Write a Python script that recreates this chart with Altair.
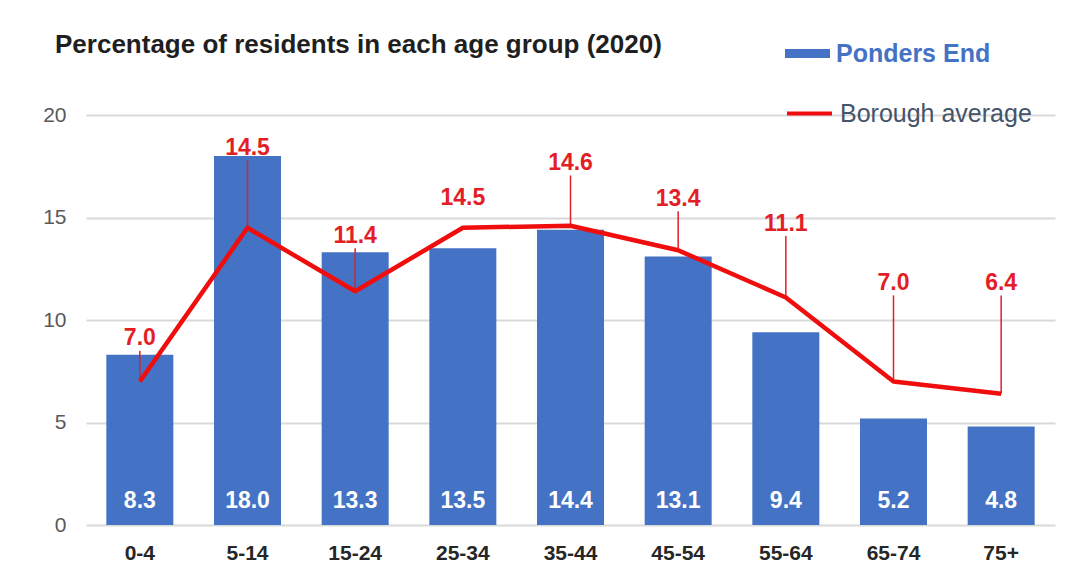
import altair as alt
import pandas as pd

ages = ["0-4", "5-14", "15-24", "25-34", "35-44", "45-54", "55-64", "65-74", "75+"]
ponders_end = [8.3, 18.0, 13.3, 13.5, 14.4, 13.1, 9.4, 5.2, 4.8]
borough_avg = [7.0, 14.5, 11.4, 14.5, 14.6, 13.4, 11.1, 7.0, 6.4]
# where the red value labels sit (in % units)
label_y = [9.1, 18.4, 14.1, 15.95, 17.65, 15.9, 14.7, 11.8, 11.8]
has_leader = [True, True, True, False, True, True, True, True, True]

df = pd.DataFrame({
    "age": ages,
    "pe": ponders_end,
    "avg": borough_avg,
    "label_y": label_y,
    "leader": has_leader,
})

FONT = "Liberation Sans"
BLUE = "#4472C4"
RED = "#F00D0D"
LABEL_RED = "#E41E26"

x_enc = alt.X(
    "age:N",
    sort=ages,
    title=None,
    scale=alt.Scale(paddingInner=0.38, paddingOuter=0.19),
    axis=alt.Axis(labelAngle=0, labelFont=FONT, labelFontSize=21, labelFontWeight="bold",
                  labelColor="#262626", labelPadding=17, ticks=False, domain=False, grid=False),
)
y_scale = alt.Scale(domain=[0, 20])

base = alt.Chart(df).transform_calculate(
    s1="'Ponders End'", s2="'Borough average'", base="0", ltop="datum.label_y - 0.6"
)

bars = base.mark_bar(size=67).encode(
    x=x_enc,
    y=alt.Y("pe:Q", scale=y_scale, title=None,
            axis=alt.Axis(values=[0, 5, 10, 15, 20], labelFont=FONT, labelFontSize=21,
                          labelColor="#595959", labelPadding=20, ticks=False, domain=False,
                          grid=True, gridColor="#D9D9D9", gridWidth=2)),
    color=alt.Color("s1:N", scale=alt.Scale(domain=["Ponders End"], range=[BLUE]),
                    legend=alt.Legend(orient="none", legendX=699, legendY=-84, title=None,
                                      symbolType="M-1,-0.2H1V0.2H-1Z", symbolSize=2025,
                                      symbolStrokeWidth=0, labelFont=FONT, labelFontSize=25,
                                      labelFontWeight="bold", labelColor=BLUE, labelOffset=6,
                                      labelLimit=0, padding=0)),
)

bar_labels = base.mark_text(font=FONT, fontSize=23, fontWeight="bold", color="white",
                            dy=-24, baseline="middle").encode(
    x=alt.X("age:N", sort=ages),
    y=alt.Y("base:Q", scale=y_scale),
    text=alt.Text("pe:Q", format=".1f"),
)

line = base.mark_line(strokeWidth=4.5, strokeJoin="round").encode(
    x=alt.X("age:N", sort=ages),
    y=alt.Y("avg:Q", scale=y_scale),
    stroke=alt.Stroke("s2:N", scale=alt.Scale(domain=["Borough average"], range=[RED]),
                      legend=alt.Legend(orient="none", legendX=699, legendY=-26, title=None,
                                        symbolType="stroke", symbolSize=2025,
                                        symbolStrokeWidth=4, labelFont=FONT, labelFontSize=25,
                                        labelColor="#44546A", labelOffset=6, labelLimit=0,
                                        padding=0)),
)

leaders = base.transform_filter("datum.leader").mark_rule(color=LABEL_RED, strokeWidth=1.5).encode(
    x=alt.X("age:N", sort=ages),
    y=alt.Y("avg:Q", scale=y_scale),
    y2="ltop:Q",
)

val_labels = base.mark_text(font=FONT, fontSize=23, fontWeight="bold", color=LABEL_RED,
                            baseline="middle").encode(
    x=alt.X("age:N", sort=ages),
    y=alt.Y("label_y:Q", scale=y_scale),
    text=alt.Text("avg:Q", format=".1f"),
)

chart = alt.layer(bars, bar_labels, leaders, line, val_labels).resolve_legend(
    color="independent", stroke="independent"
).properties(
    width=969,
    height=410,
    autosize=alt.AutoSizeParams(type="none"),
    padding={"left": 78, "top": 107, "right": 15, "bottom": 49},
    title=alt.TitleParams("Percentage of residents in each age group (2020)", anchor="start",
                          frame="group", dx=-31, dy=27, offset=0, font=FONT, fontSize=26,
                          fontWeight="bold", color="#1F1F1F"),
).configure(background="white").configure_view(stroke=None)

chart.save("out.html", embed_options={"renderer": "svg", "actions": False})
